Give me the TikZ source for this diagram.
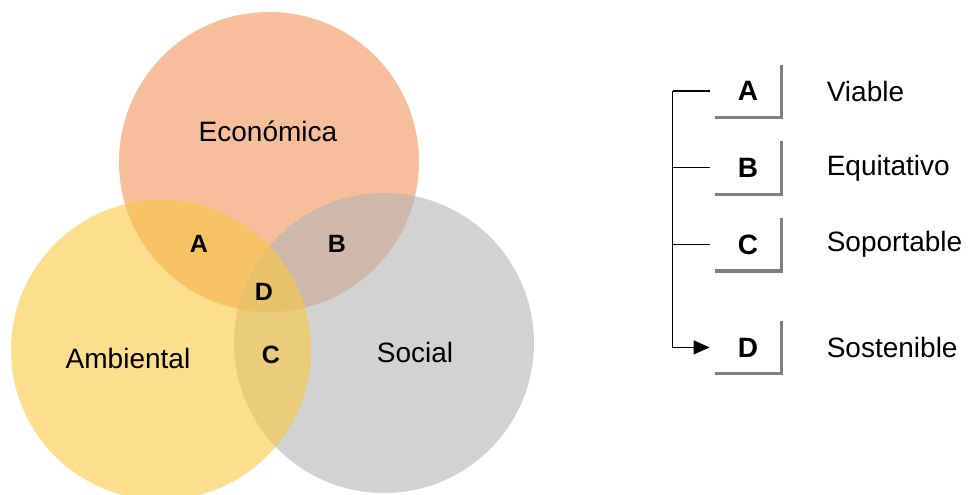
\documentclass[tikz,border=0pt]{standalone}
\usepackage{fontspec}
\setmainfont{Liberation Sans}
\usetikzlibrary{positioning,arrows.meta}

\definecolor{econ}{RGB}{240,147,88}
\definecolor{amb}{RGB}{250,200,63}
\definecolor{soc}{RGB}{180,180,180}
\definecolor{legendgray}{RGB}{128,128,128}

\begin{document}
\begin{tikzpicture}
[x=0.5pt, y=-0.5pt,
every node/.style={inner sep=0pt},
ring/.style={fill opacity=0.6},
areatext/.style={font=\fontsize{14}{16}\selectfont},
region/.style={font=\fontsize{12.5}{15}\selectfont\bfseries},
letterbox/.style={minimum width=33pt, minimum height=26pt,
  font=\fontsize{14}{16}\selectfont\bfseries},
meaning/.style={font=\fontsize{14}{16}\selectfont},
boxline/.style={draw=legendgray, line width=1.6pt},
bus/.style={draw=black, line width=0.6pt},
]

\useasboundingbox (0,0) rectangle (969,494);

% the three circles
\fill[econ, ring] (269,162) circle[radius=75pt];
\fill[soc, ring] (384,343) circle[radius=75pt];
\fill[amb, ring] (161,350) circle[radius=75pt];

\node[areatext] (econ) at (268,131) {Económica};
\node[areatext] (amb) at (128,358) {Ambiental};
\node[areatext] (soc) at (415,352) {Social};

\node[region] (regA) at (199,244) {A};
\node[region] (regB) at (337,244) {B};
\node[region] (regD) at (264,292) {D};
\node[region] (regC) at (271,355) {C};

% legend
\node[letterbox] (boxA) at (748,91) {A};
\node[letterbox, below=12pt of boxA] (boxB) {B};
\node[letterbox, below=12pt of boxB] (boxC) {C};
\node[letterbox, below=25pt of boxC] (boxD) {D};

\foreach \b in {boxA,boxB,boxC,boxD}
  \draw[boxline] (\b.north east) -- (\b.south east) -- (\b.south west);

\node[meaning, right=22.5pt of boxA] (viable) {Viable};
\node[meaning, right=22.5pt of boxB] (equit) {Equitativo};
\node[meaning, right=22.5pt of boxC] (soport) {Soportable};
\node[meaning, right=22.5pt of boxD] (sosten) {Sostenible};

\coordinate (busTop) at ([xshift=-21pt]boxA.west);
\foreach \b in {boxA,boxB,boxC}
  \draw[bus] (busTop |- \b.west) -- ([xshift=-2.5pt]\b.west);
\draw[bus, -{Triangle[length=8pt,width=7pt]}] (busTop) |- ([xshift=-2.5pt]boxD.west);
\end{tikzpicture}
\end{document}
